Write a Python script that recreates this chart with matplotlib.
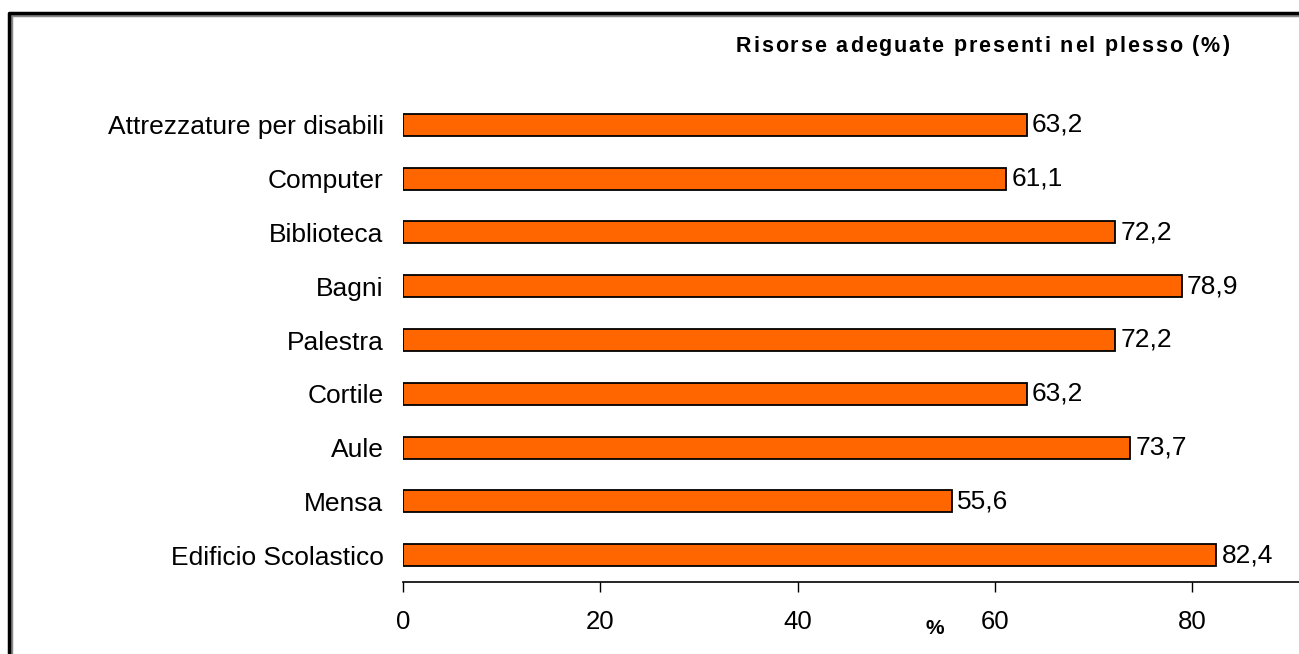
import matplotlib.pyplot as plt
from matplotlib.lines import Line2D

plt.rcParams['font.family'] = ['Liberation Sans', 'DejaVu Sans']

# data (bottom to top)
categories = ['Edificio Scolastico', 'Mensa', 'Aule', 'Cortile', 'Palestra',
              'Bagni', 'Biblioteca', 'Computer', 'Attrezzature per disabili']
values = [82.4, 55.6, 73.7, 63.2, 72.2, 78.9, 72.2, 61.1, 63.2]
x_ticks = [0, 20, 40, 60, 80]
title = 'Risorse adeguate presenti nel plesso (%)'

fig = plt.figure(figsize=(12.99, 6.54), dpi=100)
W, H = 1299, 654
ax = fig.add_axes([403 / W, 1 - 582 / H, (1301 - 403) / W, (582 - 98) / H])

pos = range(len(categories))
bars = ax.barh(pos, values, height=0.41, color='#FF6600', edgecolor='black', linewidth=1.3)
for b, v in zip(bars, values):
    ax.text(b.get_width() + 0.55, b.get_y() + b.get_height() / 2,
            ('%.1f' % v).replace('.', ','), va='center', ha='left', fontsize=19)

ax.set_xlim(0, 91)
ax.set_ylim(-0.5, len(categories) - 0.5)
ax.set_yticks(list(pos))
ax.set_yticklabels(categories, fontsize=19)
ax.set_xticks(x_ticks)
ax.set_xticklabels([str(t) for t in x_ticks], fontsize=18.5)
ax.tick_params(axis='y', length=0, pad=14)
ax.tick_params(axis='x', direction='out', length=7, width=1, pad=13)
for s in ['top', 'right', 'left']:
    ax.spines[s].set_visible(False)
ax.spines['bottom'].set_linewidth(1.2)

fig.text(935 / W, 1 - 628 / H, '%', ha='center', va='center', fontsize=15, fontweight='bold')

# title drawn with slightly wide letter spacing, as in the original
renderer = fig.canvas.get_renderer()
tsize = 15.5
probe_sp = fig.text(0, 0, 'n n', fontsize=tsize, fontweight='bold')
probe_nn = fig.text(0, 0, 'nn', fontsize=tsize, fontweight='bold')
gap = probe_sp.get_window_extent(renderer).width - probe_nn.get_window_extent(renderer).width
probe_sp.remove()
probe_nn.remove()
chars = []
widths = []
for ch in title:
    if ch == ' ':
        chars.append(None)
        widths.append(gap)
    else:
        t = fig.text(0, 1 - 46 / H, ch, ha='left', va='center', fontsize=tsize, fontweight='bold')
        chars.append(t)
        widths.append(t.get_window_extent(renderer).width)
x0, x1 = 736, 1229
spacing = (x1 - x0 - sum(widths)) / (len(title) - 1)
x = x0
for t, w in zip(chars, widths):
    if t is not None:
        t.set_x(x / W)
    x += w + spacing

# chart frame (only top and left edges fall inside the picture)
fig.add_artist(Line2D([11 / W, 11 / W, 1.01], [-0.01, 1 - 15 / H, 1 - 15 / H],
                      transform=fig.transFigure, color='#888888', lw=2.5))
fig.add_artist(Line2D([9 / W, 9 / W, 1.01], [-0.01, 1 - 13 / H, 1 - 13 / H],
                      transform=fig.transFigure, color='black', lw=2.5))

plt.savefig('out.png', dpi=100)
